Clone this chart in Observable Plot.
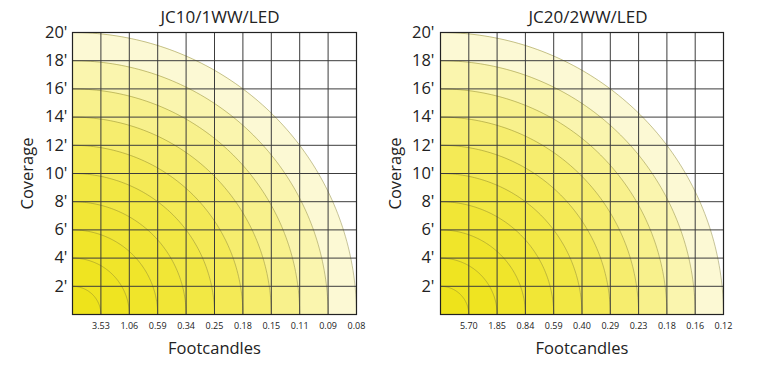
<!DOCTYPE html>
<html>
<head>
<meta charset="utf-8">
<script src="https://cdn.jsdelivr.net/npm/d3@7"></script>
<script src="https://cdn.jsdelivr.net/npm/@observablehq/plot@0.6"></script>
<style>
  html, body { margin: 0; padding: 0; background: #fff; }
  body { width: 757px; height: 368px; overflow: hidden; font-family: "Open Sans", sans-serif; }
  .row { display: flex; }
  .panel { width: 378px; height: 368px; position: relative; }
  .title { position: absolute; top: 5px; width: 200px; height: 24px; line-height: 24px; font-size: 17px; color: #222; text-align: center; }
  svg { display: block; }
</style>
</head>
<body>
<div class="row">
  <div class="panel" id="p1"><div class="title" id="t1" style="left:120px"></div></div>
  <div class="panel" id="p2"><div class="title" id="t2" style="left:110px"></div></div>
</div>
<script>
// ---- data ----
const titles = ["JC10/1WW/LED", "JC20/2WW/LED"];
const feet = [2, 4, 6, 8, 10, 12, 14, 16, 18, 20];
const coverageLabels = ["2'", "4'", "6'", "8'", "10'", "12'", "14'", "16'", "18'", "20'"];
const footcandlesLeft = ["3.53", "1.06", "0.59", "0.34", "0.25", "0.18", "0.15", "0.11", "0.09", "0.08"];
const footcandlesRight = ["5.70", "1.85", "0.84", "0.59", "0.40", "0.29", "0.23", "0.18", "0.16", "0.12"];
// fill colour of each ring, innermost (0-2') to outermost (18-20')
const ringColors = ["#eee31b", "#efe421", "#f0e52a", "#f1e636", "#f2e844", "#f4ea56", "#f6ed6e", "#f8f18c", "#faf5ae", "#fcf9d4"];

// quarter-circle outline for a given radius (geometry from the radius value)
function quarter(r) {
  const pts = [];
  for (let i = 0; i <= 90; i++) {
    const t = (90 - i) * Math.PI / 180;
    pts.push({x: r * Math.cos(t), y: r * Math.sin(t)});
  }
  return pts;
}

function panel(fcLabels, opts) {
  const rings = feet.map((r, i) => ({r, color: ringColors[i]})).reverse();
  const svg = Plot.plot({
    width: 378,
    height: 368,
    marginTop: 32,
    marginBottom: 54,
    marginLeft: opts.left,
    marginRight: opts.right,
    style: {fontFamily: "Open Sans, sans-serif", color: "#222", background: "transparent"},
    x: {domain: [0, 20]},
    y: {domain: [0, 20]},
    marks: [
      ...rings.map(d => Plot.areaY(quarter(d.r), {x: "x", y: "y", fill: d.color})),
      ...feet.map(r => Plot.line(quarter(r), {x: "x", y: "y", stroke: "#8a8430", strokeOpacity: 0.7, strokeWidth: 0.7})),
      Plot.gridX(feet, {stroke: "#3c3c3c", strokeOpacity: 1, strokeWidth: 1}),
      Plot.gridY(feet, {stroke: "#3c3c3c", strokeOpacity: 1, strokeWidth: 1}),
      Plot.frame({stroke: "#222", strokeWidth: 1.2}),
      Plot.axisX(feet, {tickSize: 0, tickPadding: 8, fontSize: 9, label: null,
        tickFormat: d => fcLabels[feet.indexOf(d)]}),
      Plot.axisY(feet, {tickSize: 0, tickPadding: opts.ypad, fontSize: 16.5, label: null,
        tickFormat: d => coverageLabels[feet.indexOf(d)]}),
      Plot.text(["Footcandles"], {frameAnchor: "bottom", dy: 34, lineAnchor: "middle", textAnchor: "middle", fontSize: 16.5, fill: "#222"}),
      Plot.text(["Coverage"], {frameAnchor: "left", dx: opts.covdx, rotate: -90, lineAnchor: "middle", textAnchor: "middle", fontSize: 16.5, fill: "#222"})
    ]
  });
  return svg;
}

document.getElementById("t1").textContent = titles[0];
document.getElementById("t2").textContent = titles[1];
document.getElementById("p1").insertBefore(panel(footcandlesLeft, {left: 72, right: 22, ypad: 5, covdx: -45}), document.getElementById("t1"));
document.getElementById("p2").insertBefore(panel(footcandlesRight, {left: 62, right: 33, ypad: 6, covdx: -45}), document.getElementById("t2"));
</script>
</body>
</html>
